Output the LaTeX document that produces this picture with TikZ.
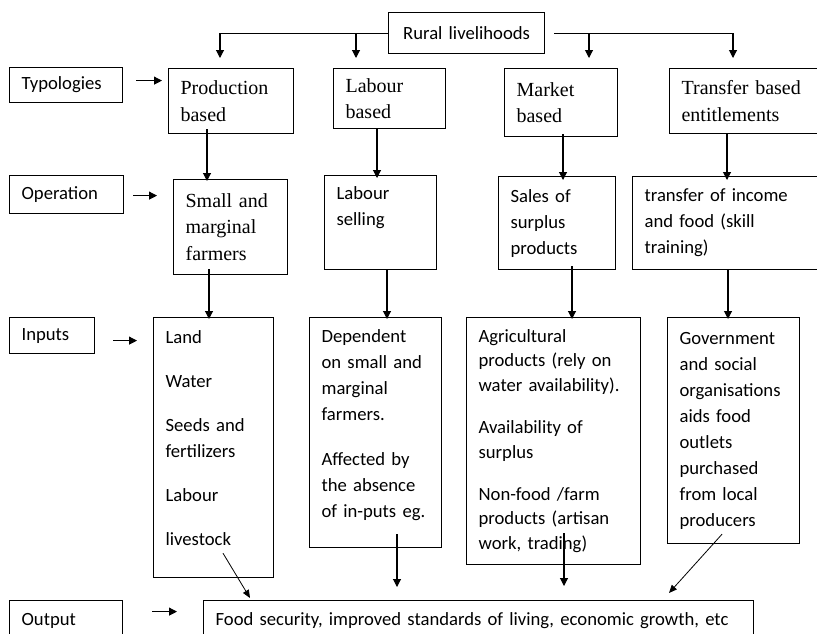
\documentclass[tikz,border=0pt]{standalone}
\usepackage{fontspec}
\setmainfont{Liberation Serif}
\newfontfamily\calib{Carlito}
\usetikzlibrary{arrows.meta}
\tikzset{
	box/.style={draw, line width=0.9pt, anchor=north west, inner xsep=9pt, inner ysep=0pt, align=left},
	dims/.style n args={2}{minimum width=#1*0.75pt, minimum height=#2*0.75pt,
		/utils/exec={\pgfmathsetlengthmacro\cellw{#1*0.75pt-18pt}}, text width=\cellw},
	sans/.style={font=\calib\fontsize{14}{19.5}\selectfont},
	serif/.style={font=\fontsize{15}{20}\selectfont},
	arr/.style={-{Triangle[length=6pt,width=6pt]}, line width=0.8pt},
	slant/.style={-{Triangle[length=6pt,width=5pt]}, line width=0.6pt},
}
\begin{document}
\begin{tikzpicture}[x=0.75pt,y=-0.75pt]
		\useasboundingbox (0,0) rectangle (817,633);
		\clip (0,0) rectangle (817,633);
		
		\node[box,sans,dims={156}{41},align=center] (rural) at (388,12) {Rural livelihoods};
		
		\node[box,sans,dims={113}{35}] (typ) at (9,67) {Typologies};
		\node[box,serif,dims={125}{65}] (prod) at (168,68) {Production\\based};
		\node[box,serif,dims={112}{60}] (labb) at (333,68) {Labour\\based};
		\node[box,serif,dims={113}{68}] (mark) at (504,68) {Market\\based};
		\node[box,serif,dims={160}{65}] (trb) at (669,68) {Transfer based\\entitlements};
		
		\node[box,sans,dims={114}{38}] (op) at (9,175) {Operation};
		\node[box,serif,dims={114}{95}] (small) at (173,179) {Small and\\marginal\\farmers};
		\node[box,sans,dims={112}{94}] (lsell) at (324,175) {Labour\\selling\\[6pt]\mbox{}};
		\node[box,sans,dims={117}{93}] (sales) at (498,176) {Sales of\\surplus\\products};
		\node[box,sans,dims={200}{93}] (trinc) at (632,176) {transfer of income\\and food (skill\\training)};
		
		\node[box,sans,dims={85}{36}] (inp) at (9,317) {Inputs};
		\node[box,sans,dims={120}{260}] (land) at (153,317) {Land\\[13.5pt]Water\\[13.5pt]Seeds and\\fertilizers\\[13.5pt]Labour\\[13.5pt]livestock\\[-4.5pt]\mbox{}};
		\node[box,sans,dims={132}{230}] (dep) at (309,317) {Dependent\\on small and\\marginal\\farmers.\\[14pt]Affected by\\the absence\\of in-puts eg.\\[-6pt]\mbox{}};
		\node[box,sans,dims={174}{247},font=\calib\fontsize{14}{18.5}\selectfont] (agri) at (466,317) {Agricultural\\products (rely on\\water availability).\\[13pt]Availability of\\surplus\\[13pt]Non-food /farm\\products (artisan\\work, trading)};
		\node[box,sans,dims={132}{226}] (gov) at (667,317) {Government\\and social\\organisations\\aids food\\outlets\\purchased\\from local\\producers};
		
		\node[box,sans,dims={113}{40}] (outp) at (9,600) {Output};
		\node[box,sans,dims={550}{40}] (food) at (203,600) {Food security, improved standards of living, economic growth, etc};
		
		\draw[arr] (rural.west) -| ([shift={(52,-10)}]prod.north west);
		\draw[arr] ([shift={(23,0)}]labb.north west |- rural.west) -- ([shift={(23,-10)}]labb.north west);
		\draw[arr] ([shift={(9,0)}]rural.east) -| ([shift={(64,-10)}]trb.north west);
		\draw[arr] ([shift={(85,0)}]mark.north west |- rural.east) -- ([shift={(85,-10)}]mark.north west);
		
		\draw[arr] ([shift={(13,-4.5)}]typ.east) -- ([shift={(-6,-20.5)}]prod.west);
		\draw[arr] ([shift={(9,1)}]op.east) -- ([shift={(-16,-31.5)}]small.west);
		\draw[arr] ([shift={(18,5)}]inp.east) -- ([shift={(-16,-107)}]land.west);
		\draw[arr] ([shift={(29,-9)}]outp.east) -- ([shift={(-26,-9)}]food.west);
		
		\draw[arr] ([shift={(39,-5)}]prod.south west) -- ([shift={(34,2)}]small.north west);
		\draw[arr] ([shift={(44,0)}]labb.south west) -- ([shift={(53,3)}]lsell.north west);
		\draw[arr] ([shift={(59,-3)}]mark.south west) -- ([shift={(65,4)}]sales.north west);
		\draw[arr] ([shift={(58,0)}]trb.south west) -- ([shift={(95,4)}]trinc.north west);
		
		\draw[arr] ([shift={(36,-6)}]small.south west) -- ([shift={(56,2)}]land.north west);
		\draw[arr] ([shift={(63,0)}]lsell.south west) -- ([shift={(78,2)}]dep.north west);
		\draw[arr] ([shift={(74,-4)}]sales.south west) -- ([shift={(106,2)}]agri.north west);
		\draw[arr] ([shift={(96,0)}]trinc.south west) -- ([shift={(61,2)}]gov.north west);
		
		\draw[slant] ([shift={(70,-25)}]land.south west) -- ([shift={(47,-2)}]food.north west);
		\draw[arr] ([shift={(88,-14)}]dep.south west) -- ([shift={(194,-13)}]food.north west);
		\draw[arr] ([shift={(98,-32)}]agri.south west) -- ([shift={(361,-14)}]food.north west);
		\draw[slant] ([shift={(55,-10)}]gov.south west) -- ([shift={(466,-7)}]food.north west);
	\end{tikzpicture}
\end{document}
